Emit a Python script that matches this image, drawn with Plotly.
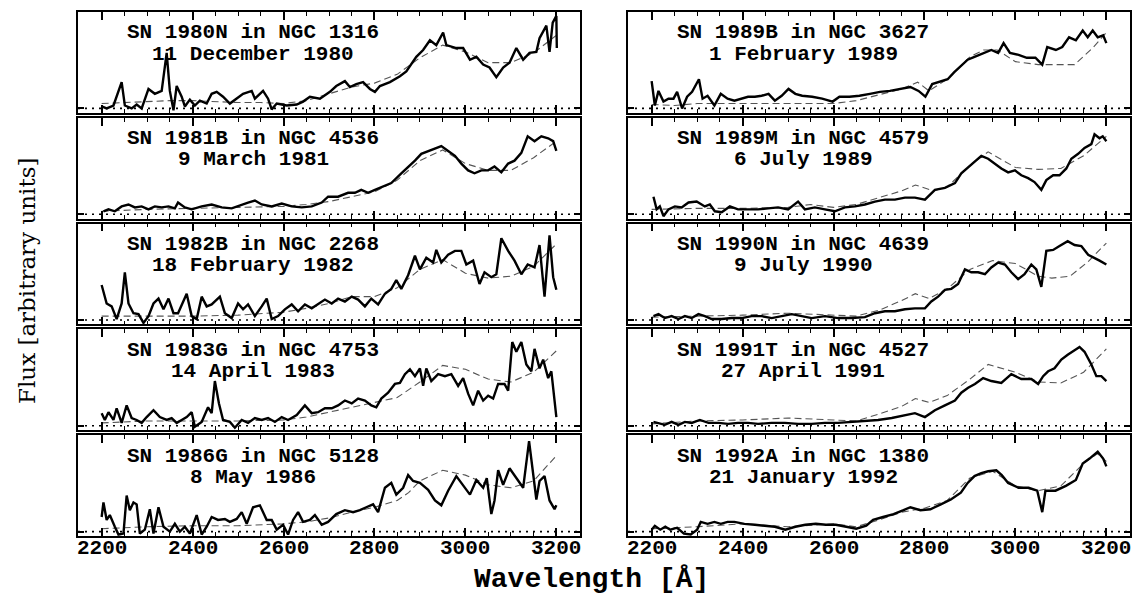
import plotly.graph_objects as go

# ---------------- data (flux in arbitrary units, wavelength in Angstrom) ----------------
names = ["SN 1980N in NGC 1316", "SN 1981B in NGC 4536", "SN 1982B in NGC 2268",
         "SN 1983G in NGC 4753", "SN 1986G in NGC 5128",
         "SN 1989B in NGC 3627", "SN 1989M in NGC 4579", "SN 1990N in NGC 4639",
         "SN 1991T in NGC 4527", "SN 1992A in NGC 1380"]
dates = ["11 December 1980", "9 March 1981", "18 February 1982", "14 April 1983", "8 May 1986",
         "1 February 1989", "6 July 1989", "9 July 1990", "27 April 1991", "21 January 1992"]

wl_1980N = [2200,2211,2226,2240,2244,2251,2266,2277,2288,2303,2317,2332,2343,2350,2358,2365,2376,2383,2394,2405,2416,2431,2442,2453,2467,2482,2497,2511,2530,2537,2555,2566,2574,2585,2607,2629,2643,2658,2680,2702,2716,2735,2746,2760,2775,2790,2801,2812,2834,2856,2870,2892,2907,2922,2936,2951,2958,2980,2995,3010,3024,3039,3053,3068,3083,3097,3112,3127,3141,3156,3163,3178,3185,3192,3200,3201]
fx_1980N = [2,0,3,20,27,3,0,4,0,20,15,18,57,18,-2,23,12,2,9,3,8,5,15,17,12,5,10,15,18,10,18,10,-1,5,3,4,7,12,10,17,23,28,22,25,27,20,17,23,27,33,38,53,60,70,65,78,65,62,62,50,53,45,42,32,42,47,62,50,57,58,72,85,58,88,95,62]
twl_1980N = [2200,2250,2300,2350,2400,2450,2500,2550,2600,2650,2700,2750,2800,2850,2900,2950,3000,3050,3100,3150,3200]
tfx_1980N = [5,6,7,8,8,7,6,6,5,8,15,22,26,35,52,65,58,47,47,57,75]

wl_1981B = [2204,2215,2229,2244,2259,2273,2288,2303,2317,2332,2347,2361,2368,2383,2398,2420,2442,2464,2486,2508,2522,2537,2552,2574,2596,2618,2640,2662,2684,2698,2720,2742,2757,2771,2786,2801,2815,2837,2859,2874,2889,2903,2918,2933,2947,2962,2977,2991,3006,3020,3035,3050,3064,3079,3094,3108,3123,3137,3152,3167,3182,3193,3200]
fx_1981B = [3,5,3,8,10,7,8,5,8,7,8,6,12,7,5,8,10,7,6,10,12,14,10,8,11,8,7,8,12,18,18,22,22,25,22,25,28,32,42,48,55,62,65,68,70,65,60,52,45,42,45,45,49,43,52,55,63,80,75,80,78,75,65]
twl_1981B = [2200,2300,2400,2500,2600,2650,2700,2750,2800,2850,2900,2950,3000,3050,3100,3150,3200]
tfx_1981B = [3,5,6,7,8,10,13,18,23,35,55,66,52,45,45,58,75]

wl_1982B = [2200,2211,2222,2233,2244,2251,2259,2270,2281,2292,2303,2314,2325,2336,2347,2358,2368,2387,2398,2409,2420,2431,2442,2460,2471,2486,2500,2511,2522,2537,2552,2563,2574,2588,2603,2618,2632,2647,2662,2676,2691,2706,2720,2735,2750,2764,2779,2793,2808,2823,2837,2848,2859,2874,2889,2900,2914,2929,2936,2947,2962,2977,2991,3002,3017,3031,3042,3057,3068,3079,3094,3108,3123,3137,3152,3163,3174,3185,3193,3200]
fx_1982B = [36,17,14,1,17,49,17,7,6,-3,4,17,22,11,22,7,7,27,4,1,24,14,16,24,7,2,17,11,16,4,14,22,1,4,11,16,9,16,12,16,21,17,22,19,24,21,14,22,16,27,32,41,32,46,66,52,64,59,72,59,67,71,71,57,61,37,49,44,47,84,71,61,47,57,54,77,24,87,44,31]
twl_1982B = [2200,2300,2400,2500,2600,2650,2700,2750,2800,2850,2900,2950,3000,3050,3100,3150,3200]
tfx_1982B = [4,4,4,5,8,12,17,24,24,33,52,62,48,43,45,55,78]

wl_1983G = [2200,2207,2215,2226,2233,2244,2255,2266,2277,2288,2299,2314,2328,2343,2354,2365,2376,2387,2398,2405,2420,2434,2442,2449,2458,2467,2482,2493,2508,2522,2537,2552,2566,2581,2596,2610,2629,2647,2662,2676,2691,2706,2720,2735,2750,2764,2779,2793,2804,2815,2830,2845,2856,2867,2878,2889,2900,2907,2914,2925,2940,2955,2969,2984,2995,3006,3017,3028,3039,3050,3061,3072,3086,3094,3103,3112,3123,3134,3145,3152,3163,3171,3182,3189,3200]
fx_1983G = [13,6,14,6,18,3,21,8,6,3,9,16,9,6,8,3,6,9,14,-1,4,19,13,46,23,6,4,-2,6,3,8,6,8,4,9,6,11,21,13,14,18,18,21,26,23,28,26,21,19,28,34,43,44,53,58,51,59,41,59,46,53,51,53,41,49,33,21,36,26,31,28,43,43,36,86,76,86,63,56,79,59,68,49,56,9]
twl_1983G = [2200,2300,2400,2500,2600,2650,2700,2750,2800,2850,2900,2950,3000,3050,3100,3150,3200]
tfx_1983G = [3,5,5,5,6,9,14,19,24,29,45,62,58,48,45,55,77]

wl_1986G = [2200,2204,2211,2218,2229,2237,2248,2255,2262,2270,2277,2284,2295,2306,2314,2325,2336,2350,2361,2372,2383,2394,2409,2420,2431,2442,2456,2471,2482,2497,2508,2519,2533,2548,2563,2574,2585,2599,2610,2621,2632,2643,2658,2669,2684,2698,2716,2735,2753,2768,2782,2797,2808,2823,2837,2848,2863,2874,2885,2900,2918,2933,2947,2962,2980,2995,3010,3024,3039,3047,3057,3064,3072,3083,3097,3112,3127,3140,3149,3156,3163,3174,3185,3196,3200]
fx_1986G = [15,30,12,17,5,-3,-2,37,22,30,28,-2,2,23,-2,25,5,0,8,0,5,-2,17,-3,5,15,12,13,10,13,20,8,25,27,12,12,2,7,-3,12,20,10,12,17,7,10,18,22,20,22,25,28,20,45,50,38,45,58,52,50,43,32,27,42,57,48,38,53,45,55,18,32,63,48,65,55,45,93,62,33,52,57,32,23,27]
twl_1986G = [2200,2300,2400,2500,2600,2650,2700,2750,2800,2850,2875,2900,2950,3000,3050,3100,3150,3200]
tfx_1986G = [3,5,6,6,8,10,14,20,25,32,40,52,63,58,48,45,52,78]

wl_1989B = [2200,2207,2215,2226,2237,2248,2256,2267,2278,2289,2304,2312,2323,2338,2352,2367,2382,2397,2412,2427,2442,2457,2471,2486,2501,2516,2531,2553,2575,2598,2613,2635,2657,2680,2702,2724,2746,2769,2787,2802,2817,2832,2851,2865,2880,2895,2910,2929,2947,2962,2974,2988,3007,3025,3044,3059,3070,3089,3103,3118,3133,3148,3159,3170,3181,3193,3200]
fx_1989B = [28,3,18,7,10,10,17,0,12,17,30,10,13,3,15,10,8,10,12,12,13,15,8,13,20,15,13,12,10,7,12,12,13,15,17,18,20,22,18,12,25,27,30,37,43,50,53,57,60,57,67,57,55,52,52,45,63,60,63,73,70,80,73,80,73,75,67]
twl_1989B = [2200,2250,2300,2400,2500,2600,2650,2700,2750,2785,2810,2850,2900,2930,2960,3000,3050,3100,3130,3170,3200]
tfx_1989B = [4,3,5,5,5,5,8,14,20,27,18,30,53,60,60,48,45,45,45,62,78]

wl_1989M = [2204,2211,2218,2226,2237,2251,2266,2281,2299,2317,2328,2339,2354,2372,2390,2412,2434,2456,2478,2500,2522,2537,2559,2581,2603,2625,2647,2669,2691,2713,2735,2757,2779,2801,2823,2845,2867,2881,2896,2911,2925,2940,2955,2969,2984,2999,3013,3028,3042,3057,3068,3083,3097,3112,3123,3138,3152,3167,3174,3185,3192,3200]
fx_1989M = [18,5,8,-2,5,8,7,12,13,8,10,3,2,8,5,5,5,6,7,5,13,5,7,5,3,7,8,10,13,15,15,17,17,15,25,27,32,42,48,55,60,57,52,47,43,45,40,37,33,25,35,40,40,47,57,62,68,72,82,78,80,75]
twl_1989M = [2200,2300,2400,2500,2550,2600,2650,2700,2750,2780,2820,2850,2900,2940,3000,3050,3100,3150,3200]
tfx_1989M = [5,6,6,7,10,7,10,17,24,30,24,28,50,64,48,46,47,60,80]

wl_1990N = [2204,2215,2229,2244,2259,2273,2288,2303,2317,2332,2354,2376,2398,2420,2442,2464,2486,2508,2530,2552,2581,2610,2640,2669,2691,2713,2735,2757,2779,2801,2815,2830,2845,2859,2874,2881,2889,2903,2918,2933,2947,2962,2977,2991,3006,3020,3035,3046,3057,3068,3083,3097,3115,3130,3145,3160,3174,3185,3200]
fx_1990N = [4,6,2,4,1,4,2,6,4,1,1,2,2,4,4,2,4,6,4,2,4,2,2,3,7,9,9,11,12,12,19,24,31,32,37,44,52,49,49,47,54,59,57,49,42,47,57,52,34,71,72,76,81,77,76,67,64,61,57]
twl_1990N = [2200,2300,2400,2500,2600,2650,2700,2750,2780,2810,2850,2900,2950,3000,3050,3080,3120,3160,3200]
tfx_1990N = [3,4,5,7,5,4,10,20,27,22,32,52,61,58,45,43,45,60,79]

wl_1991T = [2204,2215,2229,2244,2259,2273,2288,2306,2325,2347,2368,2390,2412,2434,2464,2493,2522,2552,2581,2610,2640,2669,2698,2728,2757,2779,2801,2823,2845,2867,2881,2896,2911,2929,2947,2969,2991,3013,3035,3050,3061,3072,3086,3101,3115,3130,3141,3152,3167,3178,3189,3200]
fx_1991T = [4,3,1,4,1,4,3,6,3,3,2,3,3,2,3,3,2,2,3,3,4,5,6,8,11,13,9,16,21,26,34,39,43,49,46,44,53,48,48,43,51,56,59,68,73,78,81,76,63,51,51,46]
twl_1991T = [2200,2300,2400,2500,2600,2650,2700,2750,2780,2810,2850,2900,2940,3000,3050,3100,3150,3200]
tfx_1991T = [2,5,6,8,6,5,12,20,28,24,31,48,63,55,45,44,55,79]

wl_1992A = [2200,2207,2219,2230,2241,2256,2271,2286,2300,2308,2323,2338,2352,2367,2382,2404,2427,2449,2471,2494,2516,2538,2561,2583,2605,2628,2650,2672,2687,2709,2732,2754,2769,2791,2813,2836,2858,2880,2895,2910,2925,2940,2958,2970,2984,3007,3029,3048,3059,3066,3088,3111,3133,3148,3163,3181,3193,3200]
fx_1992A = [2,6,2,5,2,4,-2,-3,2,10,8,10,8,10,10,8,7,6,5,2,5,7,8,7,7,5,3,6,12,15,18,22,25,22,23,28,33,40,50,57,60,62,63,58,50,45,45,42,20,42,42,47,53,70,75,82,75,67]
twl_1992A = [2200,2300,2400,2500,2600,2650,2700,2750,2800,2850,2900,2950,3000,3050,3100,3150,3180,3200]
tfx_1992A = [3,5,8,5,8,5,12,20,24,32,55,62,47,42,47,70,80,72]

observed = [(wl_1980N, fx_1980N), (wl_1981B, fx_1981B), (wl_1982B, fx_1982B), (wl_1983G, fx_1983G),
            (wl_1986G, fx_1986G), (wl_1989B, fx_1989B), (wl_1989M, fx_1989M), (wl_1990N, fx_1990N),
            (wl_1991T, fx_1991T), (wl_1992A, fx_1992A)]
template = [(twl_1980N, tfx_1980N), (twl_1981B, tfx_1981B), (twl_1982B, tfx_1982B), (twl_1983G, tfx_1983G),
            (twl_1986G, tfx_1986G), (twl_1989B, tfx_1989B), (twl_1989M, tfx_1989M), (twl_1990N, tfx_1990N),
            (twl_1991T, tfx_1991T), (twl_1992A, tfx_1992A)]

tick_vals = [2200, 2400, 2600, 2800, 3000, 3200]
tick_text = ["2200", "2400", "2600", "2800", "3000", "3200"]

for a, b in observed + template:
    assert len(a) == len(b), (len(a), len(b))

# ---------------- layout geometry (pixels) ----------------
W, H = 1142, 596
col_x = [(78, 580), (628, 1130)]
top, bottom, gap = 12, 536, 5
ph = (bottom - top - 4 * gap) / 5.0

def px_x(x):
    return x / W

def px_y(y):
    return 1 - y / H

MONO = "Liberation Mono"
fig = go.Figure()
layout = {}
annotations = []
shapes = []

for k in range(10):
    col, row = divmod(k, 5)
    s = "" if k == 0 else str(k + 1)
    y_top = top + row * (ph + gap)
    y_bot = y_top + ph
    x0, x1 = col_x[col]

    twl, tfx = template[k]
    wl, fx = observed[k]
    fig.add_trace(go.Scatter(x=twl, y=tfx, xaxis="x" + s, yaxis="y" + s, mode="lines",
                             line=dict(color="#555555", width=1.1, dash="7px,4px"),
                             showlegend=False, hoverinfo="skip"))
    fig.add_trace(go.Scatter(x=wl, y=fx, xaxis="x" + s, yaxis="y" + s, mode="lines",
                             line=dict(color="black", width=2.4),
                             showlegend=False))

    layout["xaxis" + s] = dict(
        domain=[px_x(x0), px_x(x1)], anchor="y" + s, range=[2148, 3252],
        showline=True, linecolor="black", linewidth=1.6, mirror="allticks",
        ticks="inside", ticklen=8, tickwidth=1.5, tickcolor="black",
        tickvals=tick_vals, ticktext=tick_text,
        minor=dict(tick0=2200, dtick=50, ticks="inside", ticklen=4, tickwidth=1.3, tickcolor="black"),
        showgrid=False, zeroline=False, showticklabels=False,
    )
    layout["yaxis" + s] = dict(
        domain=[px_y(y_bot), px_y(y_top)], anchor="x" + s, range=[-4.5, 99],
        showline=True, linecolor="black", linewidth=1.6, mirror="allticks",
        ticks="inside", ticklen=6, tickwidth=1.5, tickcolor="black",
        tickvals=[0], showticklabels=False, showgrid=False, zeroline=False,
    )
    shapes.append(dict(type="line", xref="x" + s + " domain", yref="y" + s, x0=0, x1=1, y0=0, y1=0,
                       line=dict(color="black", width=1.6, dash="2px,5px")))

    cx = x0 + 175
    annotations.append(dict(x=px_x(cx), y=px_y(y_top + 21), xref="paper", yref="paper",
                            text="<b>" + names[k] + "</b>", showarrow=False,
                            xanchor="center", yanchor="middle",
                            font=dict(family=MONO, size=21, color="black")))
    annotations.append(dict(x=px_x(cx), y=px_y(y_top + 42), xref="paper", yref="paper",
                            text="<b>" + dates[k] + "</b>", showarrow=False,
                            xanchor="center", yanchor="middle",
                            font=dict(family=MONO, size=21, color="black")))

    # tick labels of the bottom row, placed as text at the tick positions
    if row == 4:
        for tv, tt in zip(tick_vals, tick_text):
            annotations.append(dict(x=tv, y=px_y(548), xref="x" + s, yref="paper",
                                    text="<b>" + tt + "</b>", showarrow=False,
                                    xanchor="center", yanchor="middle",
                                    font=dict(family=MONO, size=21, color="black")))

annotations.append(dict(x=px_x(592), y=px_y(579), xref="paper", yref="paper",
                        text="<b>Wavelength [Å]</b>", showarrow=False,
                        xanchor="center", yanchor="middle",
                        font=dict(family=MONO, size=28, color="black")))
annotations.append(dict(x=px_x(27), y=px_y(281), xref="paper", yref="paper",
                        text="Flux [arbitrary units]", showarrow=False, textangle=-90,
                        xanchor="center", yanchor="middle",
                        font=dict(family="DejaVu Serif", size=23, color="black")))

fig.update_layout(**layout)
fig.update_layout(width=W, height=H, margin=dict(l=0, r=0, t=0, b=0),
                  paper_bgcolor="white", plot_bgcolor="white",
                  annotations=annotations, shapes=shapes, showlegend=False)

fig.write_html("out.html")
